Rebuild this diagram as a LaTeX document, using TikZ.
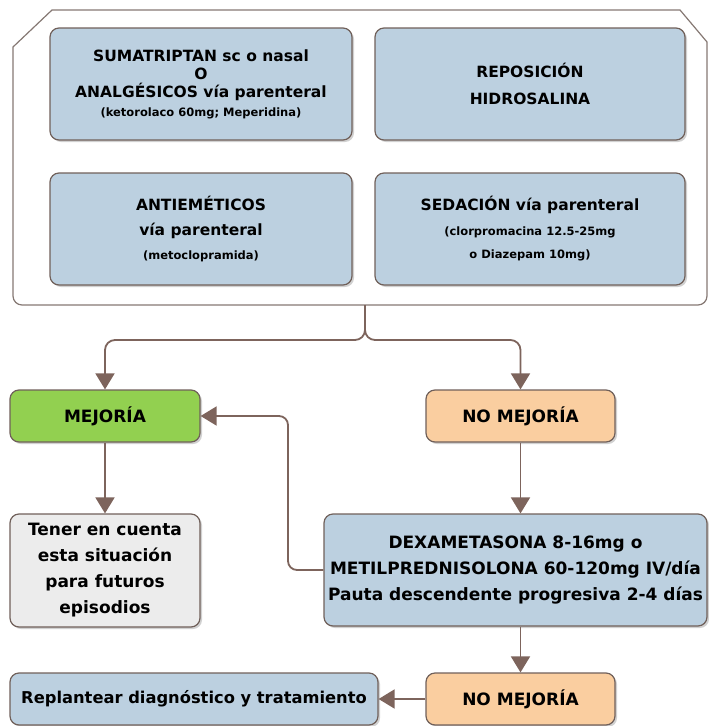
\documentclass[tikz,border=0pt]{standalone}
\usepackage{fontspec}
\setmainfont{DejaVu Sans}
\usetikzlibrary{arrows.meta, shadows}

\definecolor{boxblue}{RGB}{188,208,224}
\definecolor{boxgreen}{RGB}{146,208,80}
\definecolor{boxpeach}{RGB}{250,206,160}
\definecolor{boxgray}{RGB}{236,236,236}
\definecolor{edgec}{RGB}{112,96,90}
\definecolor{arrowc}{RGB}{125,100,92}

\newcommand{\toptxt}{\fontsize{15.5}{25}\selectfont\bfseries}
\newcommand{\lowtxt}{\fontsize{17}{26}\selectfont\bfseries}
\newcommand{\smalltxt}{\fontsize{11.5}{23}\selectfont\bfseries}

\tikzset{
  card/.style={draw=edgec, line width=1.2pt, rounded corners=9pt, align=center,
    inner sep=2pt, drop shadow={shadow xshift=2pt, shadow yshift=-2pt, opacity=.3, fill=black!60}},
  bluecard/.style={card, fill=boxblue},
  greencard/.style={card, fill=boxgreen},
  peachcard/.style={card, fill=boxpeach},
  graycard/.style={card, fill=boxgray},
  link/.style={draw=arrowc, line width=1.8pt, -{Triangle[length=16pt,width=19pt]}},
}

\begin{document}
\begin{tikzpicture}[x=1pt,y=-1pt]
  \useasboundingbox (0,0) rectangle (709,726);

  % frame round the first-line treatment
  \draw[edgec!85, line width=1.2pt] (13,47) -- (52,10) -- (680,10) -- (707,42)
    [rounded corners=9pt] -- (707,305) -- (13,305) [sharp corners] -- cycle;

  \node[bluecard, font=\toptxt, minimum width=302pt, minimum height=112pt] (suma) at (201,84)
    {SUMATRIPTAN sc o nasal\\[-7pt] O\\[-7pt] ANALGÉSICOS vía parenteral\\[-6pt]
     {\smalltxt (ketorolaco 60mg; Meperidina)}};
  \node[bluecard, font=\toptxt, minimum width=310pt, minimum height=112pt] (repo) at (530,84)
    {REPOSICIÓN\\[2pt] HIDROSALINA};
  \node[bluecard, font=\toptxt, minimum width=302pt, minimum height=112pt] (anti) at (201,229)
    {ANTIEMÉTICOS\\ vía parenteral\\[-1pt] {\smalltxt (metoclopramida)}};
  \node[bluecard, font=\toptxt, minimum width=310pt, minimum height=112pt] (seda) at (530,229)
    {SEDACIÓN vía parenteral\\ {\smalltxt (clorpromacina 12.5-25mg}\\[-2pt]
     {\smalltxt o Diazepam 10mg)}};

  \node[greencard, font=\lowtxt, minimum width=190pt, minimum height=52pt] (mej) at (105,416)
    {MEJORÍA};
  \node[peachcard, font=\lowtxt, minimum width=189pt, minimum height=52pt] (nomej) at (520.5,416)
    {NO MEJORÍA};
  \node[graycard, font=\lowtxt, minimum width=190pt, minimum height=113pt] (tener) at (105,570.5)
    {Tener en cuenta\\ esta situación\\ para futuros\\ episodios};
  \node[bluecard, font=\lowtxt, minimum width=383pt, minimum height=112pt] (dexa) at (515.5,570)
    {DEXAMETASONA 8-16mg o\\ METILPREDNISOLONA 60-120mg IV/día\\
     Pauta descendente progresiva 2-4 días};
  \node[bluecard, font=\lowtxt\fontsize{16.3}{26}\selectfont, minimum width=368pt, minimum height=52pt] (repl) at (194,699)
    {Replantear diagnóstico y tratamiento};
  \node[peachcard, font=\lowtxt, minimum width=189pt, minimum height=52pt] (nomejb) at (520.5,699)
    {NO MEJORÍA};

  \coordinate (stem) at (365,305);
  \coordinate (fork) at (365,340);

  \draw[link, rounded corners=10pt] (stem) -- (fork) -- (mej.north |- fork) -- (mej.north);
  \draw[link, rounded corners=10pt] (stem) -- (fork) -- (nomej.north |- fork) -- (nomej.north);
  \draw[link] (mej) -- (tener);
  \draw[link] (nomej.south) -- (nomej.south |- dexa.north);
  \draw[link] (nomej.south |- dexa.south) -- (nomejb.north);
  \draw[link] (nomejb) -- (repl);
  \draw[link, rounded corners=9pt] (dexa.west) -- (288,570) -- (288,416) -- (mej.east);
\end{tikzpicture}
\end{document}
